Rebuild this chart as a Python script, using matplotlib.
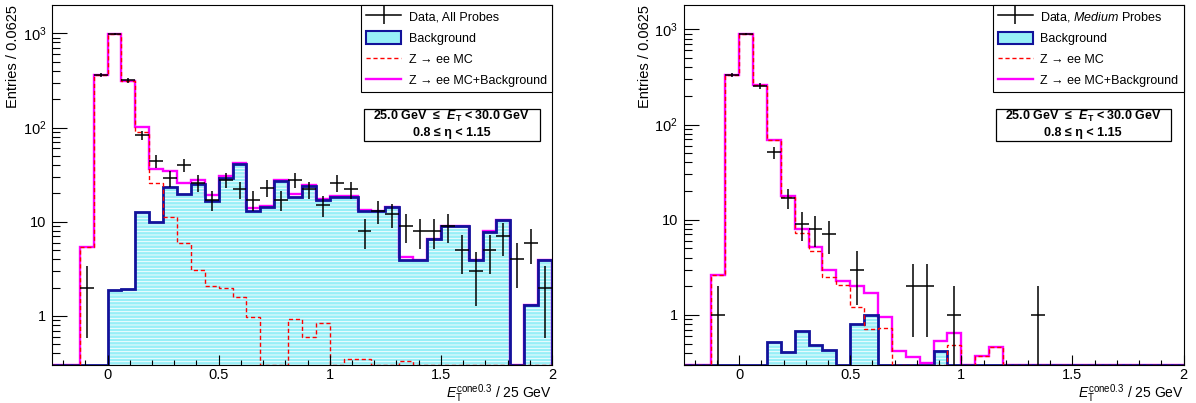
import numpy as np
import matplotlib.pyplot as plt
from matplotlib.lines import Line2D
from matplotlib.patches import Patch, Rectangle
from matplotlib.ticker import LogLocator, MultipleLocator, FuncFormatter, NullFormatter

plt.rcParams['font.family'] = ['Liberation Sans', 'DejaVu Sans']
plt.rcParams['mathtext.fontset'] = 'custom'
plt.rcParams['mathtext.rm'] = 'Liberation Sans'
plt.rcParams['mathtext.it'] = 'Liberation Sans:italic'
plt.rcParams['mathtext.bf'] = 'Liberation Sans:bold'
plt.rcParams['mathtext.bfit'] = 'Liberation Sans:italic:bold'
plt.rcParams['hatch.linewidth'] = 0.6

# binning: 36 bins of 0.0625 starting at -0.25
x_lo = -0.25
bin_w = 0.0625
n_bins = 36
edges = x_lo + bin_w * np.arange(n_bins + 1)
centers = edges[:-1] + bin_w / 2

# ---------------- left: all probes ----------------
data_all = np.array([0, 0, 2, 360, 985, 318, 83, 44, 29, 40, 26, 17, 28, 22, 17, 23, 17, 28,
                     22, 15, 26, 22, 8, 13, 12, 9, 8, 8, 9, 5, 3, 5, 7, 4, 6, 2])
bkg_all = np.array([0, 0, 0, 0, 1.9, 1.95, 12.8, 10.0, 23.1, 19.5, 25.0, 16.8, 28.9, 41.0, 13.0, 14.4, 27.2, 18.4,
                    23.9, 17.0, 18.4, 18.4, 13.0, 13.0, 14.4, 3.9, 3.9, 6.5, 9.0, 9.0, 3.9, 7.8, 10.4, 0, 1.3, 3.9])
mc_all = np.array([0, 0, 5.4, 360, 988, 308, 89, 26, 11.1, 6.0, 3.1, 2.1, 1.97, 1.6, 0.98, 0, 0, 0.94,
                   0.6, 0.84, 0, 0.35, 0.35, 0, 0, 0.33, 0, 0, 0, 0, 0, 0, 0, 0, 0, 0])
tot_all = np.array([0, 0, 5.4, 360, 990, 310, 101, 36, 34.7, 26, 27.7, 19, 30.7, 42.5, 14, 14.6, 27.8, 19.5,
                    24.5, 17.6, 18.6, 18.8, 13.4, 13.1, 14.5, 4.26, 3.9, 6.6, 9.1, 9.1, 3.95, 7.9, 10.5, 0, 1.3, 3.95])

# ---------------- right: medium probes ----------------
data_med = np.array([0, 0, 1, 330, 895, 254, 51, 17, 9, 8, 7, 0, 3, 0, 0, 0, 2, 2,
                     0, 1, 0, 0, 0, 0, 0, 1, 0, 0, 0, 0, 0, 0, 0, 0, 0, 0])
bkg_med = np.array([0, 0, 0, 0, 0, 0, 0.525, 0.405, 0.684, 0.484, 0.43, 0, 0.8, 1.0, 0, 0, 0, 0,
                    0.42, 0, 0, 0, 0, 0, 0, 0, 0, 0, 0, 0, 0, 0, 0, 0, 0, 0])
mc_med = np.array([0, 0, 2.6, 332, 900, 261, 68.4, 17.4, 7.3, 4.73, 2.53, 2.07, 1.22, 0.71, 0.735, 0, 0, 0,
                   0, 0.484, 0, 0.37, 0.457, 0, 0, 0, 0, 0, 0, 0, 0, 0, 0, 0, 0, 0])
tot_med = np.array([0, 0, 2.6, 332, 900, 261, 69, 17.8, 7.94, 5.2, 2.97, 2.29, 2.02, 1.71, 0.945, 0.42, 0.365, 0.315,
                    0.537, 0.642, 0, 0.37, 0.457, 0, 0, 0, 0, 0, 0, 0, 0, 0, 0, 0, 0, 0])

cyan = '#98eff7'
navy = '#12129a'


def ytick(v, pos):
    if v <= 10:
        return f'{v:g}'
    return r'$10^{%d}$' % int(round(np.log10(v)))


def panel(ax, data, bkg, mc, tot, data_label, ylim):
    ylo = ylim[0]
    ax.set_yscale('log')
    ax.stairs(np.maximum(bkg, ylo), edges, baseline=ylo, fill=True,
              facecolor=cyan, edgecolor='white', linewidth=0, hatch='-----')
    ax.stairs(np.maximum(tot, ylo), edges, baseline=ylo, color='#ff00ff', lw=1.7)
    ax.stairs(np.maximum(bkg, ylo), edges, baseline=ylo, color=navy, lw=2.0)
    ax.stairs(np.maximum(mc, ylo), edges, baseline=ylo, color='red', lw=1.0, ls=(0, (3, 2)))

    m = data > 0
    err = np.sqrt(data[m])
    lo = data[m] - np.maximum(data[m] - err, 1e-2)
    ax.errorbar(centers[m], data[m], yerr=[lo, err], xerr=bin_w / 2, fmt='none',
                ecolor='black', elinewidth=1.1, capsize=0)

    ax.set_xlim(edges[0], edges[-1])
    ax.set_ylim(*ylim)

    ax.xaxis.set_major_locator(MultipleLocator(0.5))
    ax.xaxis.set_minor_locator(MultipleLocator(0.1))
    ax.xaxis.set_major_formatter(FuncFormatter(lambda v, p: f'{v:g}'))
    ax.yaxis.set_major_locator(LogLocator(base=10))
    ax.yaxis.set_minor_locator(LogLocator(base=10, subs=np.arange(2, 10)))
    ax.yaxis.set_major_formatter(FuncFormatter(ytick))
    ax.yaxis.set_minor_formatter(NullFormatter())
    ax.tick_params(which='both', direction='in', top=False, right=False, width=0.8, labelsize=10.5)
    ax.tick_params(axis='x', which='major', length=7, pad=2.5)
    ax.tick_params(axis='x', which='minor', length=3.6)
    ax.tick_params(axis='y', which='major', length=11, pad=4)
    ax.tick_params(axis='y', which='minor', length=6)
    for s in ax.spines.values():
        s.set_linewidth(0.8)

    ax.set_ylabel('Entries / 0.0625', fontsize=10.5, loc='top')
    ax.yaxis.set_label_coords(-0.064, 1.0)
    ax.set_xlabel(r'$E_{\mathrm{T}}^{\mathrm{cone0.3}}$ / 25 GeV', fontsize=10, loc='right')
    ax.xaxis.set_label_coords(1.0, -0.047)

    handles = [Line2D([], [], color='black', lw=1.1, marker='|', markersize=13, markeredgewidth=1.1),
               Patch(facecolor=cyan, edgecolor=navy, linewidth=1.5),
               Line2D([], [], color='red', lw=1.0, ls=(0, (3, 2))),
               Line2D([], [], color='#ff00ff', lw=1.7)]
    labels = [data_label, 'Background', 'Z → ee MC', 'Z → ee MC+Background']
    leg = ax.legend(handles, labels, loc='upper right', bbox_to_anchor=(1, 1), borderaxespad=0,
                    fontsize=9, fancybox=False, framealpha=1, edgecolor='black',
                    handlelength=2.8, handleheight=1.2, handletextpad=0.6,
                    labelspacing=0.6, borderpad=0.4)
    leg.get_frame().set_linewidth(0.8)

    ax.add_patch(Rectangle((0.624, 0.622), 0.351, 0.088, transform=ax.transAxes,
                           facecolor='white', edgecolor='black', lw=0.9, zorder=5))
    ax.text(0.7995, 0.69, r'25.0 GeV  ≤  $\mathbfit{E}_{\mathbf{T}}$ < 30.0 GeV', transform=ax.transAxes,
            ha='center', va='center', fontsize=9, fontweight='bold', zorder=6)
    ax.text(0.7995, 0.645, '0.8 ≤ η < 1.15', transform=ax.transAxes,
            ha='center', va='center', fontsize=9, fontweight='bold', zorder=6)


fig = plt.figure(figsize=(11.96, 4.03), dpi=100)
ax1 = fig.add_axes([0.04348, 0.0943, 0.4181, 0.8933])
ax2 = fig.add_axes([0.5715, 0.0943, 0.4181, 0.8933])

panel(ax1, data_all, bkg_all, mc_all, tot_all, 'Data, All Probes', (0.302, 1996))
panel(ax2, data_med, bkg_med, mc_med, tot_med, r'Data, $\mathit{Medium}$ Probes', (0.298, 1800))

fig.savefig('out.png', dpi=100)
